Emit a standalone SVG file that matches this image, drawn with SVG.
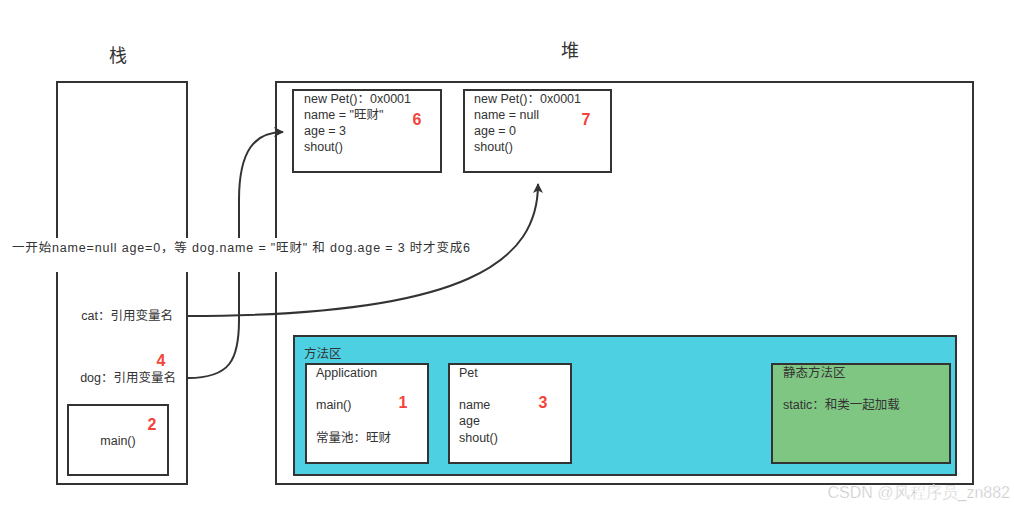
<svg xmlns="http://www.w3.org/2000/svg" width="1014" height="510" viewBox="0 0 1014 510">
<defs>
<style>
.box{fill:#fff;stroke:#333;stroke-width:2}
.t{font-family:"Liberation Sans","Noto Sans CJK SC",sans-serif;font-size:12.5px;fill:#333}
.title{font-family:"Noto Sans CJK SC",sans-serif;font-size:18px;fill:#333}
.num{font-family:"Liberation Sans","Noto Sans",sans-serif;font-size:16px;font-weight:bold;fill:#f4433a}
.edge{fill:none;stroke:#333;stroke-width:2}
</style>
<marker id="arr" viewBox="0 0 10 10" refX="9" refY="5" markerWidth="10" markerHeight="10" markerUnits="userSpaceOnUse" orient="auto">
<path d="M0,0 L10,5 L0,10 L2.5,5 Z" fill="#333"/>
</marker>
</defs>
<rect width="1014" height="510" fill="#fff"/>

<text class="title" x="118" y="62" text-anchor="middle">栈</text>
<text class="title" x="570" y="57" text-anchor="middle">堆</text>

<g id="stack">
<rect class="box" x="57" y="82" width="130" height="402"/>
<text class="t" x="173" y="320" text-anchor="end">cat：引用变量名</text>
<text class="t" x="176" y="382" text-anchor="end">dog：引用变量名</text>
<text class="num" x="161" y="366" text-anchor="middle">4</text>
</g>
<g id="main">
<rect class="box" x="68" y="405" width="100" height="70"/>
<text class="t" x="118" y="445" text-anchor="middle">main()</text>
<text class="num" x="152" y="430" text-anchor="middle">2</text>
</g>

<g id="heap">
<rect class="box" x="276" y="82" width="697" height="402"/>
</g>

<g id="pet1">
<rect class="box" x="293" y="90" width="148" height="82"/>
<text class="t" x="304" y="103">new Pet()：0x0001</text>
<text class="t" x="304" y="119">name = "旺财"</text>
<text class="t" x="304" y="135">age = 3</text>
<text class="t" x="304" y="151">shout()</text>
<text class="num" x="417" y="125" text-anchor="middle">6</text>
</g>
<g id="pet2">
<rect class="box" x="464" y="90" width="147" height="82"/>
<text class="t" x="474" y="103">new Pet()：0x0001</text>
<text class="t" x="474" y="119">name = null</text>
<text class="t" x="474" y="135">age = 0</text>
<text class="t" x="474" y="151">shout()</text>
<text class="num" x="586" y="125" text-anchor="middle">7</text>
</g>

<g id="method-area">
<rect x="294" y="336" width="662" height="139" fill="#4dd0e1" stroke="#333" stroke-width="2"/>
<text class="t" x="304" y="358">方法区</text>
</g>
<g id="application">
<rect class="box" x="306" y="364" width="122" height="99"/>
<text class="t" x="316" y="377">Application</text>
<text class="t" x="316" y="409">main()</text>
<text class="t" x="316" y="442">常量池：旺财</text>
<text class="num" x="403" y="408" text-anchor="middle">1</text>
</g>
<g id="pet-class">
<rect class="box" x="449" y="364" width="122" height="99"/>
<text class="t" x="459" y="377">Pet</text>
<text class="t" x="459" y="409">name</text>
<text class="t" x="459" y="425">age</text>
<text class="t" x="459" y="442">shout()</text>
<text class="num" x="543" y="408" text-anchor="middle">3</text>
</g>
<g id="static-area">
<rect x="772" y="364" width="178" height="99" fill="#80c683" stroke="#333" stroke-width="2"/>
<text class="t" x="783" y="377">静态方法区</text>
<text class="t" x="783" y="409">static：和类一起加载</text>
</g>

<g id="connectors">
<path class="edge" d="M188,378 C230,378 239,360 239,320 L239,200 C239,150 255,132 283,132" marker-end="url(#arr)"/>
<path class="edge" d="M188,316 C470,316 538,260 538,184" marker-end="url(#arr)"/>
</g>

<g id="label">
<rect x="10" y="238" width="463" height="34" fill="#fff"/>
<text class="t" x="12" y="252" textLength="458" lengthAdjust="spacing">一开始name=null age=0，等 dog.name = "旺财" 和 dog.age = 3 时才变成6</text>
</g>

<text x="1010" y="498" text-anchor="end" font-family="Liberation Sans,sans-serif" font-size="16" fill="#bbb" stroke="#fff" stroke-width="0.5">CSDN @风程序员_zn882</text>
</svg>
